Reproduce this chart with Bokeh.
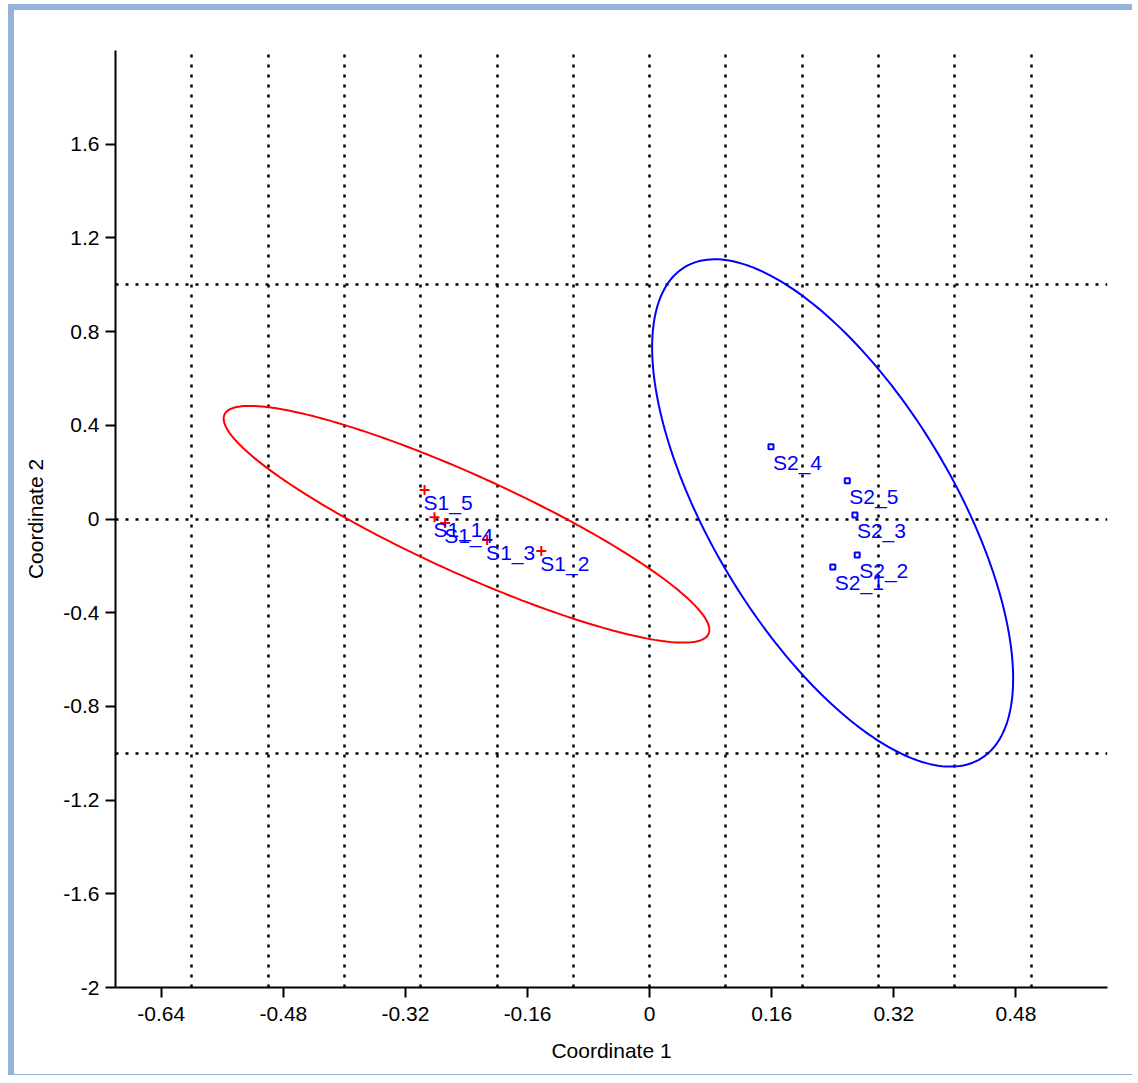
import numpy as np
from bokeh.plotting import figure
from bokeh.models import FixedTicker, Range1d, ColumnDataSource
from bokeh.core.properties import value
from bokeh.embed import file_html
from bokeh.resources import INLINE

# ---- data ----
s1_names = ["S1_1", "S1_2", "S1_3", "S1_4", "S1_5"]
s1_x = [-0.282, -0.142, -0.213, -0.268, -0.295]
s1_y = [0.008, -0.137, -0.090, -0.017, 0.124]

s2_names = ["S2_1", "S2_2", "S2_3", "S2_4", "S2_5"]
s2_x = [0.240, 0.272, 0.269, 0.159, 0.259]
s2_y = [-0.205, -0.154, 0.017, 0.308, 0.163]

x_ticks = [-0.64, -0.48, -0.32, -0.16, 0, 0.16, 0.32, 0.48]
x_tick_labels = ["-0.64", "-0.48", "-0.32", "-0.16", "0", "0.16", "0.32", "0.48"]
y_ticks = [-2, -1.6, -1.2, -0.8, -0.4, 0, 0.4, 0.8, 1.2, 1.6]
y_tick_labels = ["-2", "-1.6", "-1.2", "-0.8", "-0.4", "0", "0.4", "0.8", "1.2", "1.6"]
x_grid = [-0.6, -0.5, -0.4, -0.3, -0.2, -0.1, 0, 0.1, 0.2, 0.3, 0.4, 0.5, 0.6]
y_grid = [-1, 0, 1, 2]

FONT = "Liberation Sans"


def ellipse95(xs, ys, npts=240):
    """95% ellipse from sample covariance (F-distribution based)."""
    xs = np.asarray(xs, float)
    ys = np.asarray(ys, float)
    n = len(xs)
    d2 = n - 2
    F = (d2 / 2.0) * (0.05 ** (-2.0 / d2) - 1.0)
    k = np.sqrt(2.0 * (n - 1) / d2 * F)
    cov = np.cov(xs, ys)
    L = np.linalg.cholesky(cov)
    t = np.linspace(0, 2 * np.pi, npts)
    circ = np.vstack([np.cos(t), np.sin(t)])
    pts = L @ circ * k
    return xs.mean() + pts[0], ys.mean() + pts[1]


p = figure(width=1124, height=1071, output_backend="svg", toolbar_location=None,
           x_range=Range1d(-0.7, 0.6), y_range=Range1d(-2, 2),
           min_border_left=101, min_border_right=31, min_border_top=40, min_border_bottom=94,
           styles={"border-left": "6px solid #95b3d7", "border-top": "6px solid #95b3d7",
                   "border-bottom": "1px solid #95b3d7",
                   "margin-top": "4px", "margin-left": "8px"})
p.outline_line_color = None
p.background_fill_color = "white"
p.border_fill_color = "white"

# grids
p.xgrid.ticker = FixedTicker(ticks=x_grid)
p.ygrid.ticker = FixedTicker(ticks=y_grid)
for g in (p.xgrid, p.ygrid):
    g.grid_line_color = "black"
    g.grid_line_width = 2.5
    g.grid_line_dash = "3 7"
    g.grid_line_alpha = 1.0

# axes
p.xaxis.ticker = FixedTicker(ticks=x_ticks)
p.yaxis.ticker = FixedTicker(ticks=y_ticks)
p.xaxis.major_label_overrides = dict(zip(x_ticks, x_tick_labels))
p.yaxis.major_label_overrides = dict(zip(y_ticks, y_tick_labels))
for ax in (p.xaxis, p.yaxis):
    ax.axis_line_color = "black"
    ax.axis_line_width = 2
    ax.major_tick_line_color = "black"
    ax.major_tick_line_width = 2
    ax.major_tick_out = 10
    ax.major_tick_in = 0
    ax.minor_tick_line_color = None
    ax.major_label_text_font = FONT
    ax.major_label_text_font_size = "21px"
    ax.major_label_text_color = "black"
    ax.axis_label_text_font = FONT
    ax.axis_label_text_font_size = "21px"
    ax.axis_label_text_font_style = "normal"
    ax.axis_label_text_color = "black"
p.xaxis.major_label_standoff = 9
p.yaxis.major_label_standoff = 6
p.xaxis.axis_label_standoff = 15
p.yaxis.axis_label_standoff = 13
p.xaxis.axis_label = "Coordinate 1"
p.yaxis.axis_label = "Coordinate 2"

# ellipses
ex1, ey1 = ellipse95(s1_x, s1_y)
ex2, ey2 = ellipse95(s2_x, s2_y)
p.line(ex1, ey1, line_color="#ff0000", line_width=2)
p.line(ex2, ey2, line_color="#0000ff", line_width=2)

# points
src1 = ColumnDataSource(dict(x=s1_x, y=s1_y, name=s1_names))
src2 = ColumnDataSource(dict(x=s2_x, y=s2_y, name=s2_names))
p.scatter("x", "y", source=src1, marker="cross", size=10, line_color="#ff0000", line_width=2)
p.scatter("x", "y", source=src2, marker="square", size=5, line_color="#0000ff",
          fill_color="white", line_width=2)

p.text("x", "y", text="name", source=src1, text_font=value(FONT), text_font_size="21px",
       text_color="#0000ff", text_align="left", text_baseline="top", x_offset=-1, y_offset=1)
p.text("x", "y", text="name", source=src2, text_font=value(FONT), text_font_size="21px",
       text_color="#0000ff", text_align="left", text_baseline="top", x_offset=2, y_offset=4)

open("out.html", "w").write(file_html(p, INLINE))
